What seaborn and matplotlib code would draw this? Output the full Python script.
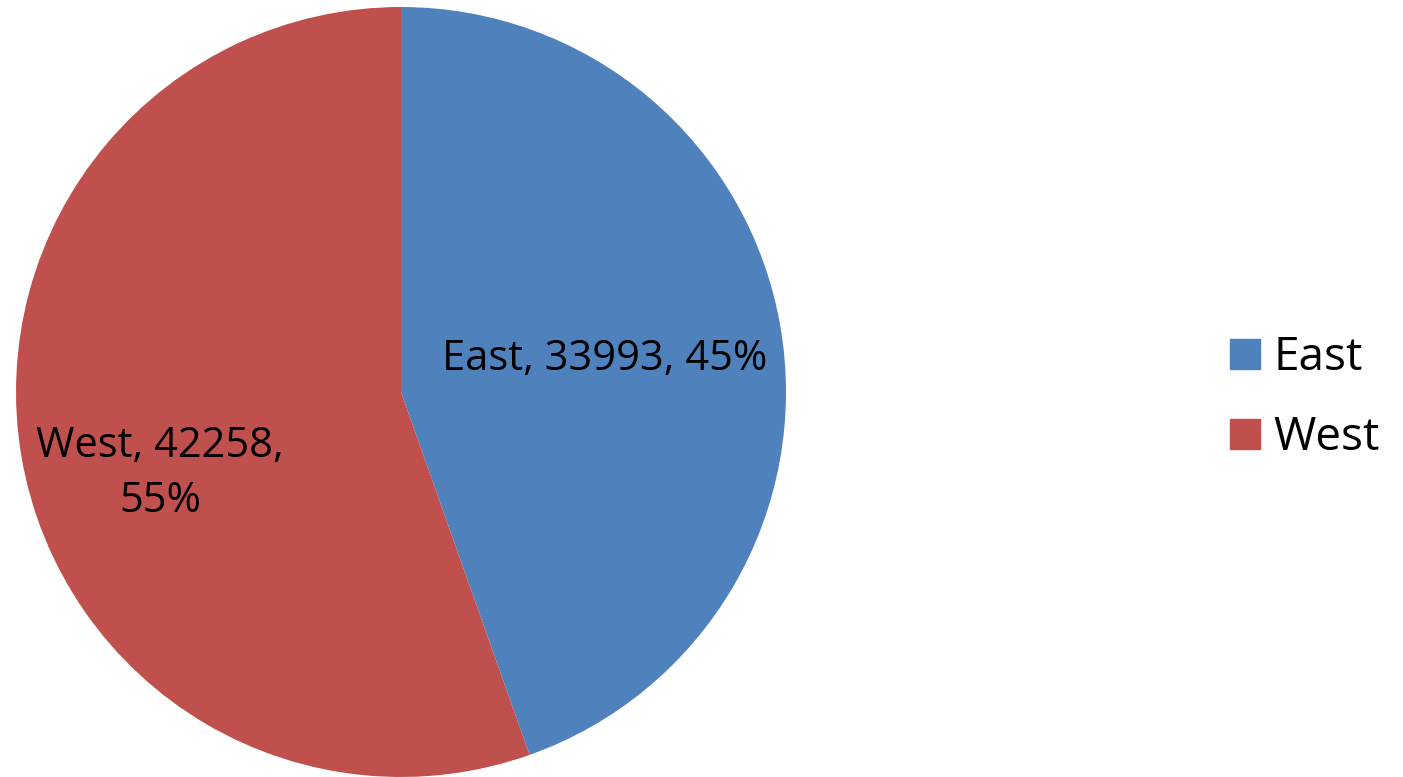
import matplotlib
matplotlib.use("Agg")
import matplotlib.pyplot as plt
import numpy as np
import seaborn as sns

# ── Data ─────────────────────────────────────────────────────────────────────
regions = ["East", "West"]
sales = [33993, 42258]
colors = ["#4F81BD", "#C0504D"]

sns.set_theme(style="white")
plt.rcParams["font.family"] = ["Open Sans", "DejaVu Sans"]
plt.rcParams["text.color"] = "black"

W, H = 1403, 777
fig = plt.figure(figsize=(W / 100, H / 100), dpi=100)
fig.patch.set_facecolor("white")

# pie centre ~ (401, 392) px, radius ~385 px
cx, cy, r = 401, 392, 385
ax = fig.add_axes([(cx - r) / W, (H - cy - r) / H, 2 * r / W, 2 * r / H])

total = sum(sales)
wedges, _ = ax.pie(
    sales, colors=colors, startangle=90, counterclock=False,
    wedgeprops={"linewidth": 0},
)
ax.set_xlim(-1, 1)
ax.set_ylim(-1, 1)
ax.set_aspect("equal")
ax.axis("off")

# data labels, Excel style "name, value, pct"
label_pos = {"East": (0.53, 0.085), "West": (-0.625, -0.212)}
for name, val in zip(regions, sales):
    pct = round(100 * val / total)
    if name == "West":
        txt = f"{name}, {val},\n{pct}%"
    else:
        txt = f"{name}, {val}, {pct}%"
    x, y = label_pos[name]
    ax.text(x, y, txt, ha="center", va="center", fontsize=30,
            color="black", linespacing=1.42)

# legend
handles = [plt.Rectangle((0, 0), 1, 1, color=c) for c in colors]
leg = fig.legend(handles, regions, loc="center left",
                 bbox_to_anchor=(1230 / W, 1 - 398 / H), frameon=False,
                 fontsize=33, handlelength=0.65, handleheight=0.65,
                 handletextpad=0.3, labelspacing=0.74, borderaxespad=0,
                 borderpad=0)
for t in leg.get_texts():
    t.set_color("black")

fig.savefig("out.png", dpi=100, facecolor="white")
